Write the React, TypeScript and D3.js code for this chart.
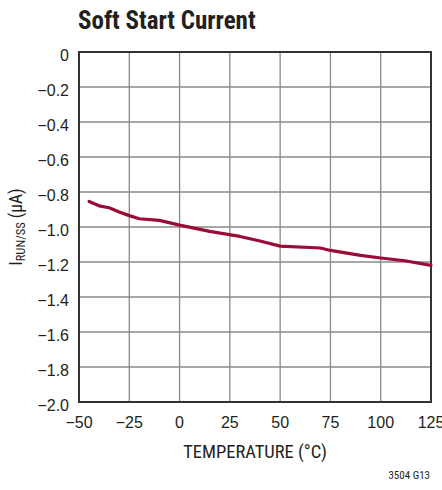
import React from "react";
import * as d3 from "d3";

const temps = [-45, -40, -35, -30, -25, -20, -10, 0, 15, 30, 40, 50, 70, 75, 90, 100, 112, 125];
const current = [-0.854, -0.879, -0.89, -0.914, -0.935, -0.953, -0.962, -0.989, -1.025, -1.054, -1.08, -1.109, -1.12, -1.134, -1.162, -1.177, -1.193, -1.219];
const xTicks = [-50, -25, 0, 25, 50, 75, 100, 125];
const yTicks = [0, -0.2, -0.4, -0.6, -0.8, -1.0, -1.2, -1.4, -1.6, -1.8, -2.0];

const W = 442, H = 490;
const L = 79, R = 431, T = 52, B = 402;
const NARROW = "'Liberation Sans Narrow', 'Arial Narrow', 'Roboto Condensed', 'Liberation Sans', sans-serif";
const REG = "'Liberation Sans', Arial, sans-serif";
const TXT = "#231f20";

const fmtY = (v: number) => (v === 0 ? "0" : "\u2212" + Math.abs(v).toFixed(1));
const fmtX = (v: number) => (v < 0 ? "\u2212" + Math.abs(v) : String(v));

export default function App() {
  const x = d3.scaleLinear().domain([-50, 125]).range([L, R]);
  const y = d3.scaleLinear().domain([-2, 0]).range([B, T]);
  const line = d3.line<number>().x((_, i) => x(temps[i])).y((d) => y(d)).curve(d3.curveLinear);

  return (
    <svg width={W} height={H} style={{ position: "absolute", left: 0, top: 0, background: "#fff" }} fontFamily={NARROW}>
      <text x={78} y={29} fontSize={25} fontWeight="bold" fill={TXT}>Soft Start Current</text>
      {xTicks.slice(1, -1).map((t) => (
        <line key={"vx" + t} x1={x(t)} x2={x(t)} y1={T} y2={B} stroke="#8a8a8a" strokeWidth={1.3} />
      ))}
      {yTicks.slice(1, -1).map((t) => (
        <line key={"hy" + t} x1={L} x2={R} y1={y(t)} y2={y(t)} stroke="#8a8a8a" strokeWidth={1.3} />
      ))}
      <rect x={L} y={T} width={R - L} height={B - T} fill="none" stroke="#333" strokeWidth={2} />
      <path d={line(current) || ""} fill="none" stroke="#9a0b36" strokeWidth={3.2} strokeLinejoin="round" strokeLinecap="round" />
      {yTicks.map((t) => (
        <text key={"ty" + t} x={69} y={y(t) + 8.7} fontSize={16} fontFamily={REG} textAnchor="end" fill={TXT}>{fmtY(t)}</text>
      ))}
      {xTicks.map((t) => (
        <text key={"tx" + t} x={x(t)} y={427.5} fontSize={16} fontFamily={REG} textAnchor="middle" fill={TXT}>{fmtX(t)}</text>
      ))}
      <text x={(L + R) / 2} y={457.5} fontSize={18.5} textAnchor="middle" fill={TXT}>TEMPERATURE (°C)</text>
      <text transform={`translate(22, ${(T + B) / 2}) rotate(-90)`} fontSize={17.5} textAnchor="middle" fill={TXT}>
        I<tspan fontSize={12.5} dy={3}>RUN/SS</tspan><tspan dy={-3}> (µA)</tspan>
      </text>
      <text x={430} y={479} fontSize={11} textAnchor="end" fill={TXT}>3504 G13</text>
    </svg>
  );
}
